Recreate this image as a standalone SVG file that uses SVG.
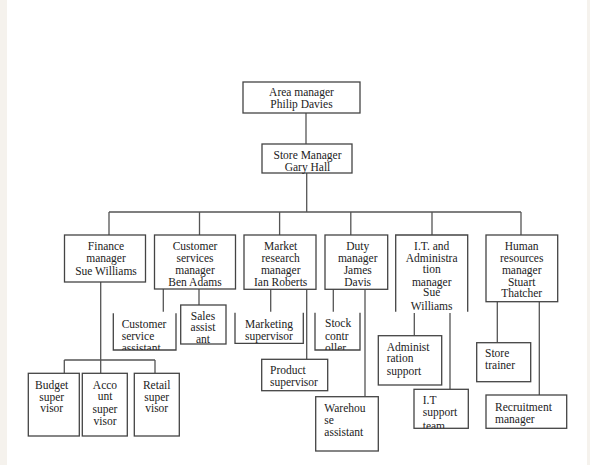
<svg xmlns="http://www.w3.org/2000/svg" width="590" height="465" viewBox="0 0 590 465">
<style>
.bx{fill:#fff;stroke:#444;stroke-width:1.3}
.ob{fill:none;stroke:#444;stroke-width:1.3}
.cn{fill:none;stroke:#555;stroke-width:1.3}
text{font-family:"Liberation Serif","Times New Roman",serif;font-size:11.5px;fill:#222}
.c{text-anchor:middle}
</style>
<defs>
<clipPath id="clipCSA"><rect x="110" y="305" width="70" height="45"/></clipPath>
<clipPath id="clipSC"><rect x="312" y="305" width="52" height="45"/></clipPath>
<clipPath id="clipIT"><rect x="412" y="388" width="60" height="40.3"/></clipPath>
</defs>
<rect x="0" y="0" width="590" height="465" fill="#fff"/>
<rect x="0" y="0" width="7" height="465" fill="#f5f2ed"/>
<rect x="587" y="0" width="3" height="465" fill="#f5f2ed"/>
<g id="connectors">
<path class="cn" d="M306,113V144"/>
<path class="cn" d="M306.7,173V212"/>
<path class="cn" d="M109,212H521"/>
<path class="cn" d="M109,212V235M199.5,212V235M279.6,212V235M350.8,212V235M432,212V235M521,212V235"/>
<path class="cn" d="M100.7,281.7V373.3M64.3,360H155M64.3,360V373.3M155,360V373.3"/>
<path class="cn" d="M163.3,289V311.7M199,289V305"/>
<path class="cn" d="M270.7,289.3V311.7M306.7,289.3V359.3"/>
<path class="cn" d="M333.3,289.3V311.7M365,289.3V396.7"/>
<path class="cn" d="M414.3,313V335.7M450,313V389.3"/>
<path class="cn" d="M497.3,301.7V342.7M539.3,301.7V395"/>
</g>
<g id="area-manager">
<rect class="bx" x="243" y="82" width="117" height="31"/>
<text class="c" x="301.5" y="96">Area manager</text>
<text class="c" x="301.5" y="108">Philip Davies</text>
</g>
<g id="store-manager">
<rect class="bx" x="262" y="144" width="90" height="29"/>
<text class="c" x="307.5" y="158.5">Store Manager</text>
<text class="c" x="307.5" y="170.5">Gary Hall</text>
</g>
<g id="finance-manager">
<rect class="bx" x="64.5" y="235" width="81" height="47"/>
<text class="c" x="106" y="249.5">Finance</text>
<text class="c" x="106" y="262">manager</text>
<text class="c" x="106" y="274.5">Sue Williams</text>
</g>
<g id="customer-services-manager">
<rect class="bx" x="154.5" y="235" width="81" height="54"/>
<text class="c" x="195" y="249.5">Customer</text>
<text class="c" x="195" y="262">services</text>
<text class="c" x="195" y="274">manager</text>
<text class="c" x="195" y="286">Ben Adams</text>
</g>
<g id="market-research-manager">
<rect class="bx" x="244" y="235" width="72" height="54.3"/>
<text class="c" x="280.7" y="249.5">Market</text>
<text class="c" x="280.7" y="262">research</text>
<text class="c" x="280.7" y="274">manager</text>
<text class="c" x="280.7" y="286">Ian Roberts</text>
</g>
<g id="duty-manager">
<rect class="bx" x="325" y="235" width="62.7" height="54.3"/>
<text class="c" x="357.7" y="249.5">Duty</text>
<text class="c" x="357.7" y="262">manager</text>
<text class="c" x="357.7" y="274">James</text>
<text class="c" x="357.7" y="286">Davis</text>
</g>
<g id="it-admin-manager">
<path class="ob" d="M395.7,311.7V235H467.7V311.7"/>
<text class="c" x="431.7" y="249.5">I.T. and</text>
<text class="c" x="431.7" y="262">Administra</text>
<text class="c" x="431.7" y="273">tion</text>
<text class="c" x="431.7" y="285.5">manager</text>
<text class="c" x="431.7" y="296">Sue</text>
<text class="c" x="431.7" y="309.5">Williams</text>
</g>
<g id="hr-manager">
<rect class="bx" x="486" y="235" width="71.7" height="66.7"/>
<text class="c" x="521.7" y="249.5">Human</text>
<text class="c" x="521.7" y="262">resources</text>
<text class="c" x="521.7" y="274">manager</text>
<text class="c" x="521.7" y="286">Stuart</text>
<text class="c" x="521.7" y="297">Thatcher</text>
</g>
<g id="customer-service-assistant">
<path class="ob" d="M113.3,313.3V350H176V313.3"/>
<g clip-path="url(#clipCSA)">
<text x="121.7" y="328">Customer</text>
<text x="121.7" y="339.5">service</text>
<text x="121.7" y="351.5">assistant</text>
</g>
</g>
<g id="sales-assistant">
<rect class="bx" x="180.7" y="305" width="45.3" height="39"/>
<text class="c" x="203" y="319.5">Sales</text>
<text class="c" x="203" y="331">assist</text>
<text class="c" x="203" y="343">ant</text>
</g>
<g id="marketing-supervisor">
<path class="ob" d="M235,312.7V343.3H303.3V312.7"/>
<text x="245" y="328">Marketing</text>
<text x="245" y="340">supervisor</text>
</g>
<g id="stock-controller">
<path class="ob" d="M315,312.7V350H360V312.7"/>
<g clip-path="url(#clipSC)">
<text x="325" y="327">Stock</text>
<text x="325" y="339.5">contr</text>
<text x="325" y="351.5">oller</text>
</g>
</g>
<g id="product-supervisor">
<rect class="bx" x="261.7" y="359.3" width="66" height="31.4"/>
<text x="270" y="374">Product</text>
<text x="270" y="386">supervisor</text>
</g>
<g id="warehouse-assistant">
<rect class="bx" x="315.7" y="396.7" width="62.6" height="54.3"/>
<text x="324.3" y="412">Warehou</text>
<text x="324.3" y="424">se</text>
<text x="324.3" y="435.7">assistant</text>
</g>
<g id="administration-support">
<rect class="bx" x="378.3" y="335.7" width="63.4" height="49.3"/>
<text x="386.7" y="350.7">Administ</text>
<text x="386.7" y="362.3">ration</text>
<text x="386.7" y="374.7">support</text>
</g>
<g id="it-support-team">
<rect class="bx" x="414" y="389.3" width="54.3" height="39"/>
<g clip-path="url(#clipIT)">
<text x="422.7" y="404">I.T</text>
<text x="422.7" y="415.7">support</text>
<text x="422.7" y="429.5">team</text>
</g>
</g>
<g id="store-trainer">
<rect class="bx" x="476.7" y="342.7" width="54" height="39"/>
<text x="485" y="357.3">Store</text>
<text x="485" y="368.5">trainer</text>
</g>
<g id="recruitment-manager">
<rect class="bx" x="486" y="395" width="80.7" height="33.3"/>
<text x="495" y="411.3">Recruitment</text>
<text x="495" y="423">manager</text>
</g>
<g id="budget-supervisor">
<rect class="bx" x="28.3" y="373.3" width="51" height="62.7"/>
<text class="c" x="51.7" y="389">Budget</text>
<text class="c" x="51.7" y="400.7">super</text>
<text class="c" x="51.7" y="412">visor</text>
</g>
<g id="account-supervisor">
<rect class="bx" x="82.3" y="373.3" width="45" height="62.7"/>
<text class="c" x="105" y="389">Acco</text>
<text class="c" x="105" y="400">unt</text>
<text class="c" x="105" y="413">super</text>
<text class="c" x="105" y="425">visor</text>
</g>
<g id="retail-supervisor">
<rect class="bx" x="134.3" y="373.3" width="45" height="62.7"/>
<text class="c" x="156.7" y="389">Retail</text>
<text class="c" x="156.7" y="400.7">super</text>
<text class="c" x="156.7" y="412">visor</text>
</g>
</svg>
